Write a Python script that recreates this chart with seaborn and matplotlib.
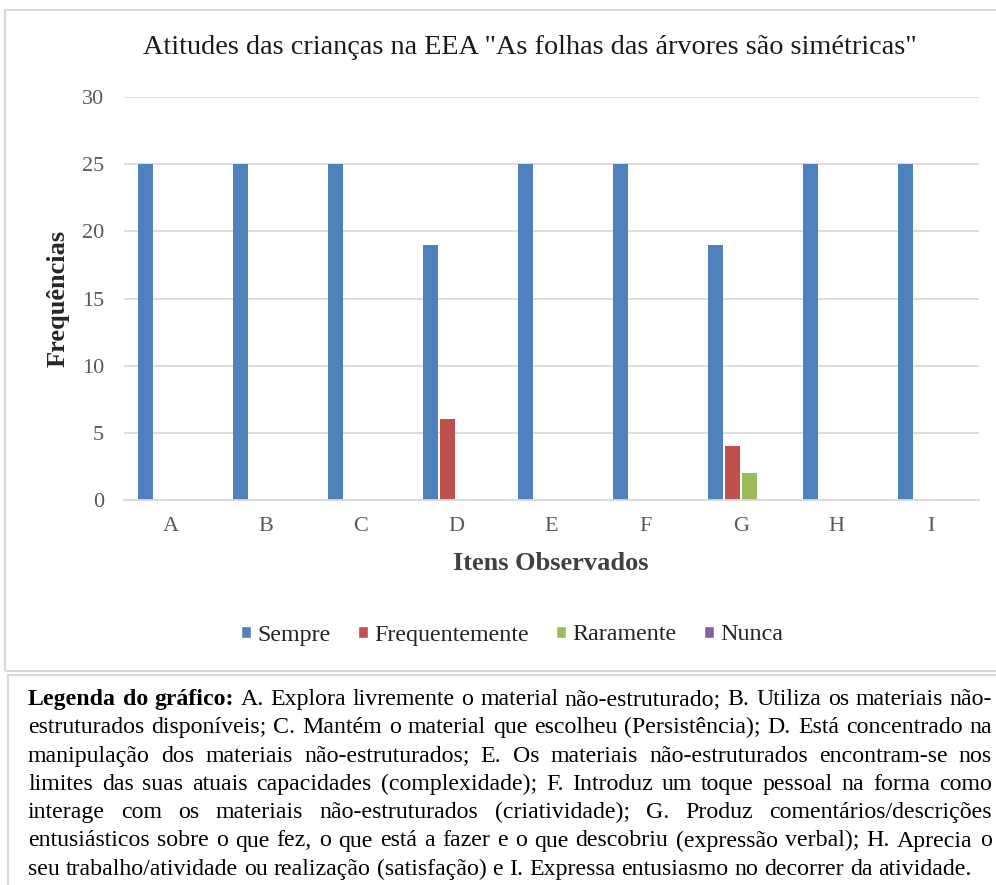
import matplotlib
matplotlib.use("Agg")
import matplotlib.pyplot as plt
import seaborn as sns
import pandas as pd
from matplotlib.patches import Patch, Rectangle

# data
itens = ["A", "B", "C", "D", "E", "F", "G", "H", "I"]
sempre = [25, 25, 25, 19, 25, 25, 19, 25, 25]
frequentemente = [0, 0, 0, 6, 0, 0, 4, 0, 0]
raramente = [0, 0, 0, 0, 0, 0, 2, 0, 0]
nunca = [0, 0, 0, 0, 0, 0, 0, 0, 0]
categorias = ["Sempre", "Frequentemente", "Raramente", "Nunca"]
cores = ["#4F81BD", "#C0504D", "#9BBB59", "#8064A2"]

titulo = 'Atitudes das crianças na EEA "As folhas das árvores são simétricas"'
legenda_linhas = [
    "Legenda do gráfico: A. Explora livremente o material não-estruturado; B. Utiliza os materiais não-",
    "estruturados disponíveis; C. Mantém o material que escolheu (Persistência); D. Está concentrado na",
    "manipulação dos materiais não-estruturados; E. Os materiais não-estruturados encontram-se nos",
    "limites das suas atuais capacidades (complexidade); F. Introduz um toque pessoal na forma como",
    "interage com os materiais não-estruturados (criatividade); G. Produz comentários/descrições",
    "entusiásticos sobre o que fez, o que está a fazer e o que descobriu (expressão verbal); H. Aprecia o",
    "seu trabalho/atividade ou realização (satisfação) e I. Expressa entusiasmo no decorrer da atividade.",
]
negrito = "Legenda do gráfico:"

df = pd.DataFrame({
    "item": itens * 4,
    "valor": sempre + frequentemente + raramente + nunca,
    "cat": sum([[c] * len(itens) for c in categorias], []),
})

sns.set_theme(style="white")
plt.rcParams["font.family"] = ["Liberation Serif", "DejaVu Serif"]

W, H = 996, 885
fig = plt.figure(figsize=(W / 100, H / 100), dpi=100)

def fx(px):
    return px / W

def fy(py):
    return 1 - py / H

# boxes
fig.patches.append(Rectangle((fx(5), fy(671)), fx(1000), fy(10) - fy(671),
                             transform=fig.transFigure, fill=False,
                             edgecolor="#D9D9D9", lw=1.5))
fig.patches.append(Rectangle((fx(7.5), fy(900)), fx(1000), fy(675) - fy(900),
                             transform=fig.transFigure, fill=False,
                             edgecolor="#D9D9D9", lw=1.5))

ax = fig.add_axes([fx(123.5), fy(500), fx(978.5) - fx(123.5), fy(97) - fy(500)])
sns.barplot(data=df, x="item", y="valor", hue="cat", hue_order=categorias,
            palette=cores, saturation=1, width=0.716, gap=0.12,
            linewidth=0, legend=False, ax=ax)

ax.set_ylim(0, 30)
ax.set_yticks(range(0, 31, 5))
ax.set_xlim(-0.5, len(itens) - 0.5)
ax.yaxis.grid(True, color="#D9D9D9", lw=1.3)
ax.set_axisbelow(True)
for s in ["top", "left", "right"]:
    ax.spines[s].set_visible(False)
ax.spines["bottom"].set_color("#D9D9D9")
ax.spines["bottom"].set_linewidth(1.3)
ax.tick_params(axis="y", length=0, pad=14, labelsize=16, labelcolor="#595959")
ax.tick_params(axis="x", length=0, pad=12, labelsize=16, labelcolor="#595959")
ax.set_xlabel("Itens Observados", fontsize=19, fontweight="bold", color="#404040", labelpad=12)
ax.set_ylabel("")
fig.text(fx(58), fy(298), "Frequências", rotation=90, fontsize=19, fontweight="bold",
         color="#262626", ha="center", va="center")

fig.text(fx(530), fy(47), titulo, fontsize=20.3, color="#1a1a1a", ha="center", va="center")

handles = [Patch(facecolor=c, label=l) for c, l in zip(cores, categorias)]
fig.legend(handles=handles, loc="center", bbox_to_anchor=(fx(512), fy(635)), ncol=4,
           frameon=False, prop={"family": "Liberation Serif", "size": 17.3},
           handlelength=0.42, handleheight=0.42,
           handletextpad=0.25, columnspacing=1.15, labelcolor="#262626")

# caption, justified
fig.canvas.draw()
r = fig.canvas.get_renderer()
fs = 17.2
left, right = 28, 992
base0, step = 705, 28.3

def largura(w, bold):
    t = fig.text(0, 0, w, fontsize=fs, fontweight="bold" if bold else "normal")
    wd = t.get_window_extent(r).width
    t.remove()
    return wd

nb = len(negrito.split())
esp = largura("a b", False) - largura("ab", False)
for i, linha in enumerate(legenda_linhas):
    palavras = linha.split()
    flags = [i == 0 and j < nb for j in range(len(palavras))]
    ws = [largura(p, b) for p, b in zip(palavras, flags)]
    if i < len(legenda_linhas) - 1:
        gap = (right - left - sum(ws)) / (len(palavras) - 1)
    else:
        gap = esp
    x = left
    for p, b, w in zip(palavras, flags, ws):
        fig.text(fx(x), fy(base0 + i * step), p, fontsize=fs,
                 fontweight="bold" if b else "normal", color="black",
                 ha="left", va="baseline")
        x += w + gap

fig.savefig("out.png", dpi=100)
